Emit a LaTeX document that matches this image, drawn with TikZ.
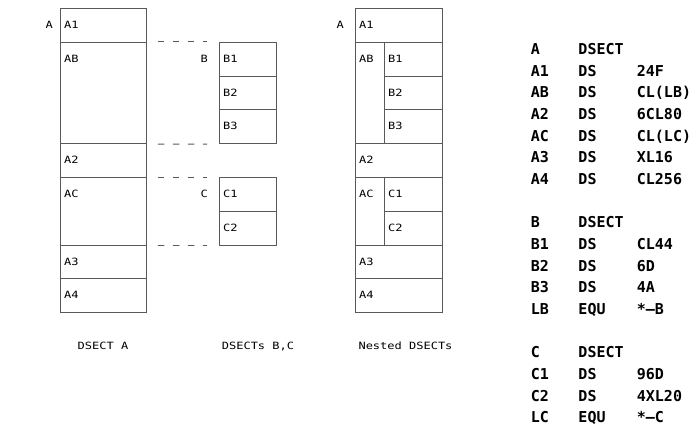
\documentclass[tikz,border=0pt]{standalone}
\usepackage{fontspec}
\newfontfamily\diagfont[FakeStretch=1.2]{DejaVu Sans Mono}
\newfontfamily\lstfont{DejaVu Sans Mono}
\usetikzlibrary{positioning}
\definecolor{boxgray}{gray}{0.35}

\begin{document}
\begin{tikzpicture}[x=1pt,y=-1pt,
  cell/.style={draw=boxgray, line width=0.9pt, anchor=north west, inner sep=0pt,
               minimum height=33.8pt},
  cellA/.style={cell, minimum width=86pt},
  cellB/.style={cell, minimum width=57pt},
  cellN/.style={cell, minimum width=87pt},
  cellL/.style={cell, minimum width=29pt},
  cellR/.style={cell, minimum width=58pt},
  txt/.style={font={\diagfont\fontsize{10pt}{12pt}\selectfont}, inner sep=0pt, anchor=west},
  lbl/.style={txt, anchor=east},
  captxt/.style={txt, anchor=base},
  gap/.style={draw=boxgray, line width=0.9pt, dash pattern=on 6.5pt off 8.5pt},
  lst/.style={font={\lstfont\bfseries\fontsize{15pt}{21.65pt}\selectfont}, inner sep=0pt,
              anchor=north west, align=left}]
\useasboundingbox (0,0) rectangle (694,425);
% ---- DSECT A ----
\node[cellA] (a1) at (60,8) {};
\node[cellA, minimum height=101.4pt] (ab) at (60,41.8) {};
\node[cellA] (a2) at (60,143.2) {};
\node[cellA, minimum height=67.6pt] (ac) at (60,177) {};
\node[cellA] (a3) at (60,244.6) {};
\node[cellA] (a4) at (60,278.4) {};
\node[txt] (ta1) at ([xshift=4pt,yshift=-16.9pt]a1.north west) {A1};
\node[txt] (tab) at ([xshift=4pt,yshift=-16.9pt]ab.north west) {AB};
\node[txt] (ta2) at ([xshift=4pt,yshift=-16.9pt]a2.north west) {A2};
\node[txt] (tac) at ([xshift=4pt,yshift=-16.9pt]ac.north west) {AC};
\node[txt] (ta3) at ([xshift=4pt,yshift=-16.9pt]a3.north west) {A3};
\node[txt] (ta4) at ([xshift=4pt,yshift=-16.9pt]a4.north west) {A4};
\node[lbl, left=11pt of ta1.west] (labA) {A};
% ---- DSECTs B and C ----
\node[cellB] (b1) at (219,41.8) {};
\node[cellB] (b2) at (219,75.6) {};
\node[cellB] (b3) at (219,109.4) {};
\node[cellB] (c1) at (219,177) {};
\node[cellB] (c2) at (219,210.8) {};
\node[txt] (tb1) at ([xshift=4pt,yshift=-16.9pt]b1.north west) {B1};
\node[txt] (tb2) at ([xshift=4pt,yshift=-16.9pt]b2.north west) {B2};
\node[txt] (tb3) at ([xshift=4pt,yshift=-16.9pt]b3.north west) {B3};
\node[txt] (tc1) at ([xshift=4pt,yshift=-16.9pt]c1.north west) {C1};
\node[txt] (tc2) at ([xshift=4pt,yshift=-16.9pt]c2.north west) {C2};
\node[lbl, left=11pt of b1.west] (labB) {B};
\node[lbl, left=11pt of c1.west] (labC) {C};
% ---- dashed links: where B and C sit inside A ----
\draw[gap] ([xshift=11pt]ab.north east) -- ([xshift=-12pt]b1.north west);
\draw[gap] ([xshift=11pt]ab.south east) -- ([xshift=-12pt]b3.south west);
\draw[gap] ([xshift=11pt]ac.north east) -- ([xshift=-12pt]c1.north west);
\draw[gap] ([xshift=11pt]ac.south east) -- ([xshift=-12pt]c2.south west);
% ---- nested DSECTs ----
\node[cellN] (na1) at (355,8) {};
\node[cellL, minimum height=101.4pt] (nab) at (355,41.8) {};
\node[cellR] (nb1) at (384,41.8) {};
\node[cellR] (nb2) at (384,75.6) {};
\node[cellR] (nb3) at (384,109.4) {};
\node[cellN] (na2) at (355,143.2) {};
\node[cellL, minimum height=67.6pt] (nac) at (355,177) {};
\node[cellR] (nc1) at (384,177) {};
\node[cellR] (nc2) at (384,210.8) {};
\node[cellN] (na3) at (355,244.6) {};
\node[cellN] (na4) at (355,278.4) {};
\node[txt] (tna1) at ([xshift=4pt,yshift=-16.9pt]na1.north west) {A1};
\node[txt] (tnab) at ([xshift=4pt,yshift=-16.9pt]nab.north west) {AB};
\node[txt] (tnb1) at ([xshift=4pt,yshift=-16.9pt]nb1.north west) {B1};
\node[txt] (tnb2) at ([xshift=4pt,yshift=-16.9pt]nb2.north west) {B2};
\node[txt] (tnb3) at ([xshift=4pt,yshift=-16.9pt]nb3.north west) {B3};
\node[txt] (tna2) at ([xshift=4pt,yshift=-16.9pt]na2.north west) {A2};
\node[txt] (tnac) at ([xshift=4pt,yshift=-16.9pt]nac.north west) {AC};
\node[txt] (tnc1) at ([xshift=4pt,yshift=-16.9pt]nc1.north west) {C1};
\node[txt] (tnc2) at ([xshift=4pt,yshift=-16.9pt]nc2.north west) {C2};
\node[txt] (tna3) at ([xshift=4pt,yshift=-16.9pt]na3.north west) {A3};
\node[txt] (tna4) at ([xshift=4pt,yshift=-16.9pt]na4.north west) {A4};
\node[lbl, left=11pt of na1.west] (labNA) {A};
% ---- captions ----
\node[captxt] (capA)  at (103,349)   {DSECT A};
\node[captxt] (capBC) at (258,349)   {DSECTs B,C};
\node[captxt] (capN)  at (405.5,349) {Nested DSECTs};
% ---- source listing ----
\node[lst] (listing) at (530.7,39.3) {%
  \begin{tabular}{@{}p{47.6pt}@{}p{58.4pt}@{}l@{}}
  A  & DSECT & \\
  A1 & DS  & 24F \\
  AB & DS  & CL(LB) \\
  A2 & DS  & 6CL80 \\
  AC & DS  & CL(LC) \\
  A3 & DS  & XL16 \\
  A4 & DS  & CL256 \\
  \\
  B  & DSECT & \\
  B1 & DS  & CL44 \\
  B2 & DS  & 6D \\
  B3 & DS  & 4A \\
  LB & EQU & *–B \\
  \\
  C  & DSECT & \\
  C1 & DS  & 96D \\
  C2 & DS  & 4XL20 \\
  LC & EQU & *–C
  \end{tabular}};
\end{tikzpicture}
\end{document}
